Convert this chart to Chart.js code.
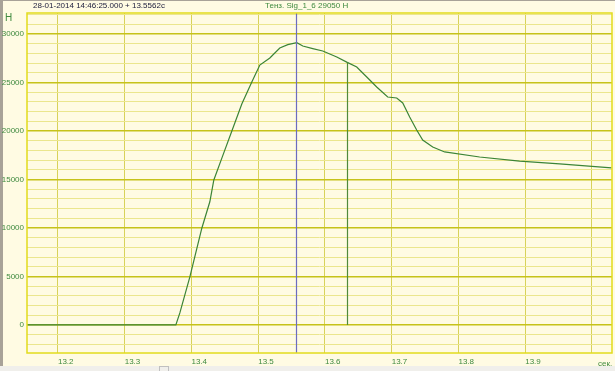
<!DOCTYPE html>
<html>
<head>
<meta charset="utf-8">
<script src="https://cdn.jsdelivr.net/npm/chart.js@4/dist/chart.umd.min.js"></script>
<style>
  html, body { margin: 0; padding: 0; background: #fffbe3; }
  #wrap { width: 615px; height: 371px; position: relative; }
</style>
</head>
<body>
<div id="wrap"><canvas id="chart" width="615" height="371"></canvas></div>
<script>
// sample times (s) and force values (H)
const times = [13.1536, 13.3766, 13.3826, 13.3976, 13.4156, 13.4275, 13.4335, 13.4455, 13.4605, 13.4754,
  13.4904, 13.5024, 13.5174, 13.5323, 13.5443, 13.5578, 13.5668, 13.5817, 13.5967, 13.6177,
  13.6326, 13.6476, 13.6626, 13.6775, 13.6940, 13.7075, 13.7165, 13.7269, 13.7374, 13.7464,
  13.7614, 13.7793, 13.8317, 13.8916, 13.9515, 14.0293]
const forces = [0, 0, 1240, 4950, 10000, 12700, 14950, 17200, 20000, 22780,
  25050, 26800, 27530, 28560, 28900, 29100, 28760, 28500, 28250, 27630,
  27100, 26600, 25570, 24540, 23500, 23400, 22890, 21450, 20100, 19070,
  18350, 17840, 17320, 16900, 16600, 16190]

// grid positions and which of them carry a label
const xGrid = [13.2, 13.3, 13.4, 13.5, 13.6, 13.7, 13.8, 13.9, 14.0]
const xTickLabels = [13.2, 13.3, 13.4, 13.5, 13.6, 13.7, 13.8, 13.9]
const yTickLabels = [0, 5000, 10000, 15000, 20000, 25000, 30000]
const yMinorStep = 1000

const cursorTime = 13.5562
const markerTime = 13.6326
const markerForce = 27100

const headerLeft = "28-01-2014 14:46:25.000 + 13.5562c"
const headerMid = "Тенз. Sig_1_6 29050 H"

const FONT = "Arial, sans-serif"
const labelGreen = "#3f8a3f"

function frame() {
  return {
    id: "frame",
    beforeDraw: (chart) => {
      const { ctx, width, height } = chart
      ctx.save()
      ctx.fillStyle = "#fffbe3"
      ctx.fillRect(0, 0, width, height)
      ctx.fillStyle = "#a8a298"
      ctx.fillRect(0, 0, 3, height)
      ctx.fillRect(0, 0, width, 1)
      ctx.fillStyle = "#f0efeb"
      ctx.fillRect(0, height - 5, width, 5)
      ctx.strokeStyle = "#c0c0c0"
      ctx.strokeRect(159.5, height - 4.5, 9, 6)
      ctx.restore()
    },
    afterDraw: (chart) => {
      const { ctx, chartArea: a } = chart
      ctx.save()
      ctx.strokeStyle = "#e2dc1c"
      ctx.lineWidth = 1.5
      ctx.strokeRect(a.left, a.top, a.right - a.left, a.bottom - a.top)

      ctx.font = "8px " + FONT
      ctx.textBaseline = "middle"
      ctx.fillStyle = "#1a1a3a"
      ctx.fillText(headerLeft, 33, 6)
      ctx.fillStyle = labelGreen
      ctx.fillText(headerMid, 265, 6)
      ctx.font = "10px " + FONT
      ctx.fillText("H", 5, 18)
      ctx.font = "8px " + FONT
      ctx.fillText("сек.", 598, 364)
      ctx.restore()
    },
  }
}

function cursors() {
  return {
    id: "cursors",
    afterDatasetsDraw: (chart) => {
      const { ctx, chartArea: a, scales } = chart
      const cx = Math.round(scales.x.getPixelForValue(cursorTime)) + 0.5
      const mx = Math.round(scales.x.getPixelForValue(markerTime)) + 0.5
      ctx.save()
      ctx.lineWidth = 1.2
      ctx.strokeStyle = "#6c6cc0"
      ctx.beginPath()
      ctx.moveTo(cx, a.top)
      ctx.lineTo(cx, a.bottom)
      ctx.stroke()
      ctx.strokeStyle = "#4f8a3a"
      ctx.beginPath()
      ctx.moveTo(mx, scales.y.getPixelForValue(markerForce))
      ctx.lineTo(mx, scales.y.getPixelForValue(0))
      ctx.stroke()
      ctx.restore()
    },
  }
}

const isLabel = (list, v) => list.some((t) => Math.abs(t - v) < 1e-6)
const isMajor = (v) => isLabel(yTickLabels, v)

new Chart(document.getElementById("chart"), {
  type: "line",
  data: {
    datasets: [
      {
        data: times.map((t, i) => ({ x: t, y: forces[i] })),
        borderColor: "#3b8436",
        borderWidth: 1.2,
        pointRadius: 0,
        tension: 0,
      },
    ],
  },
  options: {
    animation: false,
    responsive: false,
    layout: { padding: { top: 13, right: 3, left: 0, bottom: 0 } },
    scales: {
      x: {
        type: "linear",
        min: 13.1536,
        max: 14.03,
        afterFit: (scale) => { scale.height = 18 },
        afterBuildTicks: (scale) => { scale.ticks = xGrid.map((v) => ({ value: v })) },
        border: { display: false },
        grid: {
          drawTicks: false,
          color: "#d8d25a",
          lineWidth: 1,
        },
        ticks: {
          align: "start",
          padding: 4,
          autoSkip: false,
          maxRotation: 0,
          color: labelGreen,
          font: { family: FONT, size: 8 },
          callback: (v) => (isLabel(xTickLabels, v) ? v.toFixed(1) : ""),
        },
      },
      y: {
        min: -2890,
        max: 32165,
        afterFit: (scale) => { scale.width = 27 },
        afterBuildTicks: (scale) => {
          const ticks = []
          for (let v = Math.ceil(scale.min / yMinorStep) * yMinorStep; v <= scale.max; v += yMinorStep) {
            ticks.push({ value: v })
          }
          scale.ticks = ticks
        },
        border: { display: false },
        grid: {
          drawTicks: false,
          color: (c) => (c.tick && isMajor(c.tick.value) ? "#c6c21a" : "#ebe68e"),
          lineWidth: (c) => (c.tick && isMajor(c.tick.value) ? 1.5 : 1),
        },
        ticks: {
          padding: 3,
          autoSkip: false,
          color: labelGreen,
          font: { family: FONT, size: 8 },
          callback: (v) => (isMajor(v) ? String(v) : ""),
        },
      },
    },
    plugins: {
      legend: { display: false },
      tooltip: { enabled: false },
    },
  },
  plugins: [frame(), cursors()],
})
</script>
</body>
</html>
